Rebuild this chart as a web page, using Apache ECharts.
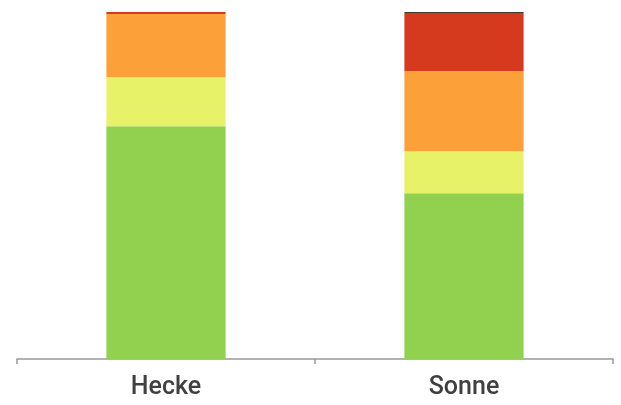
<!DOCTYPE html>
<html>
<head>
<meta charset="utf-8">
<script src="https://cdn.jsdelivr.net/npm/echarts@6/dist/echarts.min.js"></script>
<style>
  html, body { margin: 0; padding: 0; background: #fff; }
  #chart { width: 621px; height: 405px; }
</style>
</head>
<body>
<div id="chart"></div>
<script>
const categories = ['Hecke', 'Sonne']
const green = [67.1, 47.8]
const yellow = [14.1, 12.1]
const orange = [18.2, 23.1]
const red = [0.6, 16.7]
const dark = [0, 0.3]

const colors = ['#92d050', '#e8f268', '#fca03a', '#d63a1e', '#3c3a2a']
const seriesData = [green, yellow, orange, red, dark]

const series = seriesData.map((data, i) => {
  return {
    type: 'bar',
    stack: 'total',
    barWidth: '40%',
    data: data,
    itemStyle: { color: colors[i] },
    silent: true
  }
})

const chart = echarts.init(document.getElementById('chart'))
chart.setOption({
  animation: false,
  grid: { left: 17, right: 8, top: 12, bottom: 46 },
  xAxis: {
    type: 'category',
    data: categories,
    axisLine: { lineStyle: { color: '#999', width: 1.5 } },
    axisTick: { show: true, alignWithLabel: false, length: 5, lineStyle: { color: '#999', width: 1.5 } },
    axisLabel: {
      color: '#404040',
      fontSize: 25,
      fontWeight: 500,
      fontFamily: 'Roboto',
      margin: 16
    }
  },
  yAxis: {
    type: 'value',
    min: 0,
    max: 100,
    show: false
  },
  series: series
})
</script>
</body>
</html>
